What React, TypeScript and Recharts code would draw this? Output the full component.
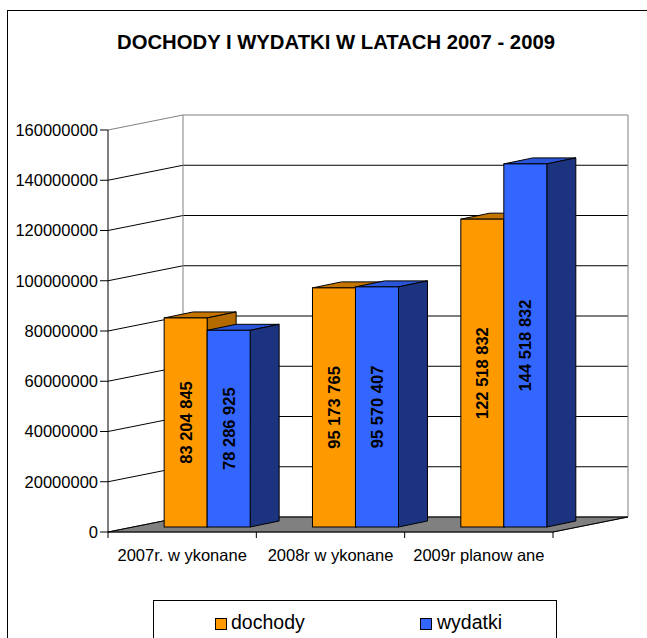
import React from 'react';
import { BarChart, Bar, XAxis, YAxis, CartesianGrid, LabelList } from 'recharts';

const title = 'DOCHODY I WYDATKI W LATACH 2007 - 2009';
const categories = ['2007r. w ykonane', '2008r w ykonane', '2009r planow ane'];
const seriesNames = ['dochody', 'wydatki'];
const dochody = [83204845, 95173765, 122518832];
const wydatki = [78286925, 95570407, 144518832];
const yTicks = [0, 20000000, 40000000, 60000000, 80000000, 100000000, 120000000, 140000000, 160000000];

const data = categories.map((name, i) => ({ name, dochody: dochody[i], wydatki: wydatki[i] }));

const FONT = '"Liberation Sans", Arial, sans-serif';
const WALL_DX = 75;
const WALL_DY = -15;
const BAR_OX = 25;
const BAR_OY = -5;
const BAR_DX = 29;
const BAR_DY = -6;

const ORANGE = { front: '#FF9900', top: '#C47500', side: '#B36B00' };
const BLUE = { front: '#3366FF', top: '#2A55D9', side: '#1C3480' };

const fmt = (v: number) => String(Math.round(v)).replace(/\B(?=(\d{3})+(?!\d))/g, ' ');

const make3DBar = (c: { front: string; top: string; side: string }) => (props: any) => {
  const { x, y, width, height } = props;
  if (x == null || y == null || !width || height == null) return <g />;
  const fx = x + BAR_OX;
  const fy = y + BAR_OY;
  const w = width;
  const h = height;
  return (
    <g>
      <polygon
        points={`${fx},${fy} ${fx + w},${fy} ${fx + w + BAR_DX},${fy + BAR_DY} ${fx + BAR_DX},${fy + BAR_DY}`}
        fill={c.top}
        stroke="#000"
        strokeWidth={1}
        strokeLinejoin="round"
      />
      <polygon
        points={`${fx + w},${fy} ${fx + w + BAR_DX},${fy + BAR_DY} ${fx + w + BAR_DX},${fy + h + BAR_DY} ${fx + w},${fy + h}`}
        fill={c.side}
        stroke="#000"
        strokeWidth={1}
        strokeLinejoin="round"
      />
      <rect x={fx} y={fy} width={w} height={h} fill={c.front} stroke="#000" strokeWidth={1} />
    </g>
  );
};

const barLabel = (p: any) => {
  const vb = p.viewBox && p.viewBox.width != null ? p.viewBox : p;
  const { x, y, width, height } = vb;
  if (x == null) return null;
  const cx = x + width / 2 + BAR_OX;
  const cy = y + height / 2 + BAR_OY;
  return (
    <text
      x={cx}
      y={cy}
      transform={`rotate(-90 ${cx} ${cy})`}
      textAnchor="middle"
      dominantBaseline="central"
      fontWeight="bold"
      fontSize={16.5}
      fontFamily={FONT}
      fill="#000"
    >
      {fmt(Number(p.value))}
    </text>
  );
};

const gridLine = (p: any) => {
  const { x1, y1, x2, y, height } = p;
  const isTop = Math.abs(y1 - y) < 1;
  const isBottom = Math.abs(y1 - (y + height)) < 1;
  const col = isTop ? '#808080' : '#000';
  const n = categories.length;
  return (
    <g key={p.key}>
      {isBottom && (
        <g>
          <polygon
            points={`${x1},${y1} ${x2},${y1} ${x2 + WALL_DX},${y1 + WALL_DY} ${x1 + WALL_DX},${y1 + WALL_DY}`}
            fill="#808080"
            stroke="#555"
            strokeWidth={1}
          />
          <line x1={x2} y1={y1} x2={x2 + WALL_DX} y2={y1 + WALL_DY} stroke="#000" />
          {Array.from({ length: n + 1 }).map((_, i) => {
            const tx = x1 + (i * (x2 - x1)) / n;
            return <line key={i} x1={tx} y1={y1} x2={tx} y2={y1 + 6} stroke="#000" />;
          })}
        </g>
      )}
      <polyline
        points={`${x1},${y1} ${x1 + WALL_DX},${y1 + WALL_DY} ${x2 + WALL_DX},${y1 + WALL_DY}`}
        fill="none"
        stroke={col}
        strokeWidth={1}
      />
      {isTop && (
        <g>
          <line x1={x1 + WALL_DX} y1={y1 + WALL_DY} x2={x1 + WALL_DX} y2={y1 + height + WALL_DY} stroke="#808080" />
          <line x1={x2 + WALL_DX} y1={y1 + WALL_DY} x2={x2 + WALL_DX} y2={y1 + height + WALL_DY} stroke="#808080" />
        </g>
      )}
    </g>
  );
};

const XTick = (p: any) => {
  const { x, y, payload } = p;
  return (
    <text x={x} y={y + 15} dy="0.71em" textAnchor="middle" fontSize={16.5} fontFamily={FONT} fill="#000">
      {payload.value}
    </text>
  );
};

export default function App() {
  return (
    <div
      style={{
        position: 'absolute',
        left: 0,
        top: 0,
        width: 647,
        height: 638,
        background: '#fff',
        overflow: 'hidden',
        fontFamily: FONT,
      }}
    >
      <div
        style={{
          position: 'absolute',
          left: 7,
          top: 10,
          width: 700,
          height: 700,
          border: '1px solid #000',
          boxSizing: 'border-box',
        }}
      />
      <div
        style={{
          position: 'absolute',
          left: 4,
          width: 664,
          top: 29,
          textAlign: 'center',
          fontWeight: 'bold',
          fontSize: 20.3,
          lineHeight: '26px',
          color: '#000',
        }}
      >
        {title}
      </div>
      <div style={{ position: 'absolute', left: 0, top: 0 }}>
        <BarChart
          width={647}
          height={638}
          data={data}
          margin={{ top: 130, right: 94, bottom: 76, left: 8 }}
          barCategoryGap="21%"
          barGap={0}
        >
          <CartesianGrid horizontal={gridLine} vertical={false} />
          <XAxis
            dataKey="name"
            axisLine={{ stroke: '#000' }}
            tickLine={false}
            tickSize={0}
            tick={<XTick />}
            height={30}
            interval={0}
          />
          <YAxis
            width={100}
            domain={[0, 160000000]}
            ticks={yTicks}
            interval={0}
            axisLine={{ stroke: '#000' }}
            tickLine={{ stroke: '#000' }}
            tickSize={8}
            tickMargin={2}
            tickFormatter={(v: number) => String(v)}
            tick={{ fill: '#000', fontSize: 16.5, fontFamily: FONT }}
          />
          <Bar dataKey="dochody" name={seriesNames[0]} isAnimationActive={false} shape={make3DBar(ORANGE)}>
            <LabelList dataKey="dochody" content={barLabel} />
          </Bar>
          <Bar dataKey="wydatki" name={seriesNames[1]} isAnimationActive={false} shape={make3DBar(BLUE)}>
            <LabelList dataKey="wydatki" content={barLabel} />
          </Bar>
        </BarChart>
      </div>
      <div
        style={{
          position: 'absolute',
          left: 153,
          top: 600,
          width: 404,
          height: 60,
          border: '1px solid #000',
          boxSizing: 'border-box',
        }}
      >
        <div style={{ position: 'absolute', left: 61, top: 17, width: 10, height: 10, background: ORANGE.front, border: '1px solid #000' }} />
        <div style={{ position: 'absolute', left: 77, top: 8, fontSize: 19.5, lineHeight: '26px', color: '#000' }}>
          {seriesNames[0]}
        </div>
        <div style={{ position: 'absolute', left: 266, top: 17, width: 10, height: 10, background: BLUE.front, border: '1px solid #000' }} />
        <div style={{ position: 'absolute', left: 283, top: 8, fontSize: 19.5, lineHeight: '26px', color: '#000' }}>
          {seriesNames[1]}
        </div>
      </div>
    </div>
  );
}
